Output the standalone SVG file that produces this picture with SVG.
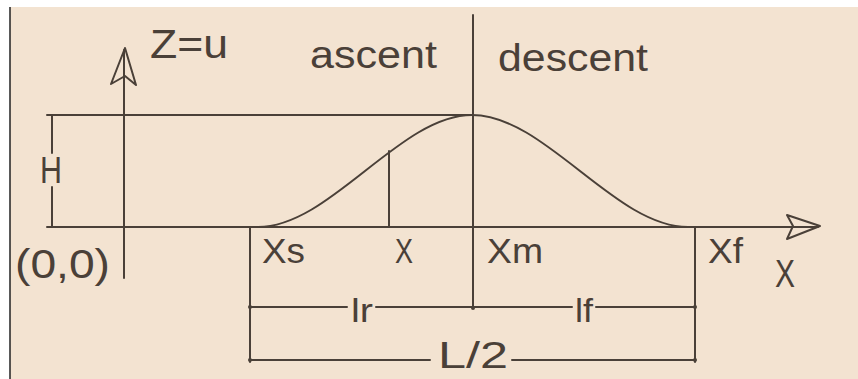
<svg xmlns="http://www.w3.org/2000/svg" width="858" height="379" viewBox="0 0 858 379">
<defs>
<style>
.ln{stroke:#4a4038;stroke-width:2;fill:none;stroke-linecap:round;stroke-linejoin:round}
.txt{font-family:"Liberation Sans","DejaVu Sans",sans-serif;fill:#4a4038}
.dot{fill:#4a4038}
</style>
</defs>
<rect x="0" y="0" width="858" height="379" fill="#ffffff"/>
<rect x="10" y="7" width="848" height="372" fill="#f3e3d1"/>
<line x1="10" y1="7" x2="10" y2="379" stroke="#222" stroke-width="1.5"/>
<g id="connectors">
  <path class="ln" d="M124,50 V278"/>
  <path class="ln" d="M125,48 L111,84 L125,76 L136,85 Z"/>
  <path class="ln" d="M47,227 H818"/>
  <path class="ln" d="M820,226 L787,215 L793,226 L787,239 Z"/>
  <path class="ln" d="M47,115 H472"/>
  <path class="ln" d="M52,115 V153 M52,187 V227"/>
  <path class="ln" d="M258,227 C330,227 400,115 472,115 C545,115 615,227 688,227"/>
  <path class="ln" d="M389,151 V227"/>
  <path class="ln" d="M473,15 V308"/>
  <path class="ln" d="M250,227 V362"/>
  <path class="ln" d="M695,227 V362"/>
  <path class="ln" d="M250,307 H347 M376,307 H572 M596,307 H695"/>
  <path class="ln" d="M250,360 H430 M512,360 H695"/>
  <circle class="dot" cx="250" cy="307" r="2"/>
  <circle class="dot" cx="695" cy="307" r="2"/>
  <circle class="dot" cx="473" cy="308" r="2"/>
  <circle class="dot" cx="250" cy="360" r="2"/>
  <circle class="dot" cx="695" cy="360" r="2"/>
</g>
<g id="label-z"><text class="txt" x="150" y="58" font-size="40" textLength="78" lengthAdjust="spacingAndGlyphs">Z=u</text></g>
<g id="label-ascent"><text class="txt" x="310" y="68" font-size="38" textLength="127" lengthAdjust="spacingAndGlyphs">ascent</text></g>
<g id="label-descent"><text class="txt" x="498" y="71" font-size="38" textLength="150" lengthAdjust="spacingAndGlyphs">descent</text></g>
<g id="label-h"><text class="txt" x="40" y="183" font-size="36" textLength="22" lengthAdjust="spacingAndGlyphs">H</text></g>
<g id="label-origin"><text class="txt" x="15" y="278" font-size="40" textLength="95" lengthAdjust="spacingAndGlyphs">(0,0)</text></g>
<g id="label-xs"><text class="txt" x="262" y="263" font-size="35" textLength="43" lengthAdjust="spacingAndGlyphs">Xs</text></g>
<g id="label-x"><text class="txt" x="395" y="263" font-size="35" textLength="18" lengthAdjust="spacingAndGlyphs">X</text></g>
<g id="label-xm"><text class="txt" x="487" y="263" font-size="35" textLength="56" lengthAdjust="spacingAndGlyphs">Xm</text></g>
<g id="label-xf"><text class="txt" x="708" y="263" font-size="35" textLength="35" lengthAdjust="spacingAndGlyphs">Xf</text></g>
<g id="label-xaxis"><text class="txt" x="775" y="287" font-size="38" textLength="20" lengthAdjust="spacingAndGlyphs">X</text></g>
<g id="label-lr"><text class="txt" x="351" y="322" font-size="34" textLength="22" lengthAdjust="spacingAndGlyphs">lr</text></g>
<g id="label-lf"><text class="txt" x="575" y="322" font-size="34" textLength="18" lengthAdjust="spacingAndGlyphs">lf</text></g>
<g id="label-l2"><text class="txt" x="438" y="368" font-size="36" textLength="70" lengthAdjust="spacingAndGlyphs">L/2</text></g>
</svg>
